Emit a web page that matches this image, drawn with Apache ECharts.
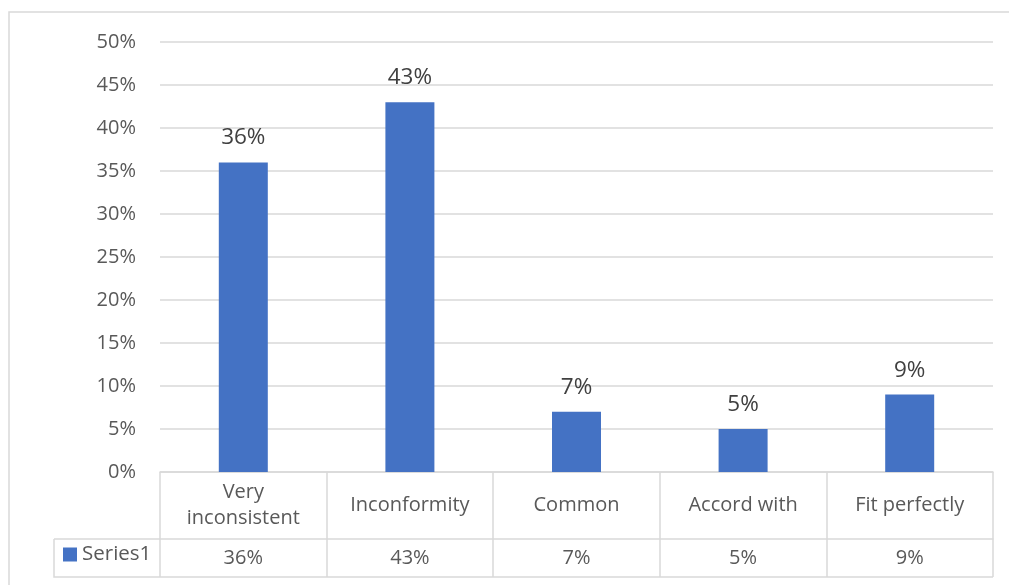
<!DOCTYPE html>
<html>
<head>
<meta charset="utf-8">
<script src="https://cdn.jsdelivr.net/npm/echarts@6/dist/echarts.min.js"></script>
<style>
  html, body { margin: 0; padding: 0; background: #fff; }
  #chart { width: 1009px; height: 585px; }
</style>
</head>
<body>
<div id="chart"></div>
<script>
// values (percent)
var categories = ['Very\ninconsistent', 'Inconformity', 'Common', 'Accord with', 'Fit perfectly'];
var seriesName = 'Series1';
var values = [36, 43, 7, 5, 9];

var grey = '#d9d9d9';
var textCol = '#595959';
var font = 'Open Sans';

var chart = echarts.init(document.getElementById('chart'));

var option = {
  backgroundColor: '#fff',
  textStyle: { fontFamily: font },
  grid: { left: 160, right: 16, top: 42, bottom: 113, containLabel: false },
  legend: {
    data: [{ name: seriesName, icon: 'rect' }],
    left: 63, top: 544, padding: 0,
    itemWidth: 14, itemHeight: 14, itemGap: 5,
    textStyle: { fontSize: 20.5, color: textCol, fontFamily: font, padding: [0, 0, 0, 0] }
  },
  xAxis: [{
    type: 'category',
    data: categories,
    axisLine: { lineStyle: { color: grey, width: 1.5 } },
    axisTick: { show: true, length: 105, interval: 0, lineStyle: { color: grey, width: 1.5 } },
    axisLabel: {
      interval: 0, margin: 33, verticalAlign: 'middle',
      fontSize: 20, lineHeight: 26, color: textCol, fontFamily: font
    },
    splitLine: { show: false }
  }, {
    type: 'category',
    data: categories,
    position: 'bottom',
    offset: 67,
    axisLine: { lineStyle: { color: grey, width: 1.5 } },
    axisTick: { show: false },
    axisLabel: {
      interval: 0, margin: 19, verticalAlign: 'middle',
      fontSize: 20, color: textCol, fontFamily: font,
      formatter: function (v, i) { return values[i] + '%'; }
    }
  }],
  yAxis: {
    type: 'value',
    min: 0, max: 50, interval: 5,
    axisLine: { show: false },
    axisTick: { show: false },
    axisLabel: {
      margin: 24, fontSize: 20, color: textCol, fontFamily: font,
      formatter: function (v) { return v + '%'; }
    },
    splitLine: { lineStyle: { color: grey, width: 1.5 } }
  },
  series: [{
    name: seriesName,
    type: 'bar',
    data: values,
    barWidth: 49,
    itemStyle: { color: '#4472C4' },
    label: {
      show: true, position: 'top', distance: 13,
      fontSize: 22.5, color: '#404040', fontFamily: font,
      formatter: function (p) { return p.value + '%'; }
    }
  }],
  graphic: [
    // chart area border (top and left visible)
    { type: 'polyline', shape: { points: [[9, 600], [9, 12], [1020, 12]] },
      style: { stroke: grey, lineWidth: 1.5, fill: null }, silent: true },
    // data table outline for the series row
    { type: 'polyline', shape: { points: [[54, 539], [160, 539]] },
      style: { stroke: grey, lineWidth: 1.5 }, silent: true },
    { type: 'polyline', shape: { points: [[54, 539], [54, 577], [993, 577]] },
      style: { stroke: grey, lineWidth: 1.5, fill: null }, silent: true }
  ]
};

chart.setOption(option);
</script>
</body>
</html>
